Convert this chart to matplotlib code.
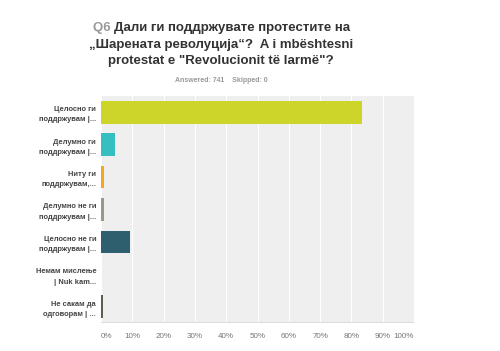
import matplotlib.pyplot as plt
import numpy as np

plt.rcParams['font.family'] = ['Liberation Sans', 'DejaVu Sans']

labels = ["Целосно ги\nподдржувам |...", "Делумно ги\nподдржувам |...", "Ниту ги\nподдржувам,...",
          "Делумно не ги\nподдржувам |...", "Целосно не ги\nподдржувам |...", "Немам мислење\n| Nuk kam...",
          "Не сакам да\nодговорам | ..."]
values = [83.4, 4.5, 0.9, 1.1, 9.4, 0.0, 0.7]
colors = ["#cdd42a", "#36bfc1", "#f5a623", "#999a86", "#2e5f6e", "#7c9c5a", "#5e5e4c"]
ticks = list(range(0, 101, 10))

fig = plt.figure(figsize=(5.0, 3.51), dpi=100)
ax = fig.add_axes([0.202, 0.08, 0.626, 0.6465])
ax.set_facecolor("#efefef")

y = np.arange(len(labels))
ax.barh(y, values, height=0.7, color=colors, zorder=3)
ax.set_ylim(len(labels) - 0.5, -0.5)
ax.set_xlim(0, 100)
ax.set_xticks(ticks)
ax.set_xticklabels([f"{t}%" for t in ticks], fontsize=5.8, color="#777777")
xt = ax.get_xticklabels()
xt[0].set_ha("left")
xt[-1].set_ha("right")
ax.set_yticks(y)
ax.set_yticklabels(labels, fontsize=5.4, color="#444444", fontweight="bold", linespacing=1.65)
ax.tick_params(length=0, pad=3.5)
ax.tick_params(axis="x", pad=7.5)
ax.grid(axis="x", color="white", linewidth=0.8, zorder=1)
for s in ax.spines.values():
    s.set_visible(False)
ax.axhline(len(labels) - 0.5, color="#dddddd", linewidth=1.5, zorder=2)

# title
fs = 9.5
q = fig.text(0.186, 0.92, "Q6 ", fontsize=fs, color="#999999", fontweight="bold", ha="left", va="center")
ax.annotate("Дали ги поддржувате протестите на", xy=(1, 0.5), xycoords=q, fontsize=fs, color="#333333",
            fontweight="bold", ha="left", va="center", annotation_clip=False)
fig.text(0.442, 0.873, "„Шарената револуција“?  A i mbështesni", fontsize=fs, color="#333333",
         fontweight="bold", ha="center", va="center")
fig.text(0.441, 0.826, "protestat e \"Revolucionit të larmë\"?", fontsize=fs, color="#333333",
         fontweight="bold", ha="center", va="center")
fig.text(0.443, 0.771, "Answered: 741    Skipped: 0", fontsize=5.0, color="#999999",
         fontweight="bold", ha="center", va="center")

fig.savefig("out.png", dpi=100)
